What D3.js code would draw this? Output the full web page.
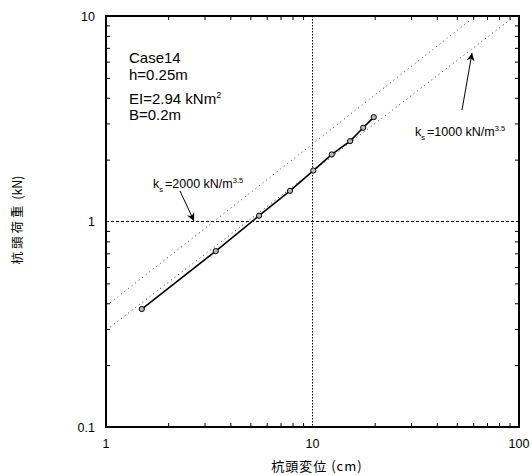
<!DOCTYPE html>
<html>
<head>
<meta charset="utf-8">
<script src="https://cdn.jsdelivr.net/npm/d3@7"></script>
<style>
  body { margin: 0; background: white; }
  text { font-family: "Liberation Sans", Arial, sans-serif; }
  .narrow { font-family: "Liberation Sans Narrow", "Arial Narrow", "Liberation Sans", sans-serif; }
  .jp { font-family: "Noto Sans CJK JP", sans-serif; }
</style>
</head>
<body>
<div id="container"></div>
<script>
// tick labels
let xTickLabels = ["1", "10", "100"];
let yTickLabels = ["0.1", "1", "10"];

// measured pile head displacement (cm) / load (kN)
let dispCm = [1.49, 3.40, 5.51, 7.78, 10.09, 12.4, 15.2, 17.6, 19.8];
let loadKN = [0.375, 0.718, 1.067, 1.41, 1.77, 2.12, 2.46, 2.86, 3.22];

// model lines
let ks2000X = [1.05, 59];
let ks2000Y = [0.403, 9.67];
let ks1000X = [1.05, 93.2];
let ks1000Y = [0.307, 9.82];

let infoLines = ["Case14", "h=0.25m"];

let w = 532;
let h = 475;
let pL = 106, pR = 519, pT = 16, pB = 427;

let viz = d3.select("#container").append("svg")
    .attr("width", w)
    .attr("height", h)
    .style("background-color", "white")
;

let x = d3.scaleLog().domain([+xTickLabels[0], +xTickLabels[2]]).range([pL, pR]);
let y = d3.scaleLog().domain([+yTickLabels[0], +yTickLabels[2]]).range([pB, pT]);

let minorX = d3.range(2, 10).flatMap(d => [d, d * 10]);
let minorY = d3.range(2, 10).flatMap(d => [d / 10, d]);

// inward ticks on all four sides
viz.append("g").attr("transform", `translate(0,${pB})`)
  .call(d3.axisBottom(x).tickValues(minorX).tickSize(-4).tickFormat(""));
viz.append("g").attr("transform", `translate(0,${pT})`)
  .call(d3.axisTop(x).tickValues(minorX).tickSize(-4).tickFormat(""));
viz.append("g").attr("transform", `translate(${pL},0)`)
  .call(d3.axisLeft(y).tickValues(minorY).tickSize(-4).tickFormat(""));
viz.append("g").attr("transform", `translate(${pR},0)`)
  .call(d3.axisRight(y).tickValues(minorY).tickSize(-4).tickFormat(""));
viz.selectAll(".domain").remove();
viz.selectAll(".tick line").attr("stroke", "black").attr("stroke-width", 1);

// reference lines at 1 and 10
viz.append("line")
  .attr("x1", pL).attr("x2", pR)
  .attr("y1", y(1)).attr("y2", y(1))
  .attr("stroke", "black").attr("stroke-width", 1).attr("stroke-dasharray", "3,2");
viz.append("line")
  .attr("x1", x(10)).attr("x2", x(10))
  .attr("y1", pT).attr("y2", pB)
  .attr("stroke", "black").attr("stroke-width", 1).attr("stroke-dasharray", "1.5,1.5");

// tick labels
viz.selectAll(".xlab").data(xTickLabels).enter()
  .append("text")
    .attr("class", "narrow")
    .attr("x", d => x(+d))
    .attr("y", pB + 21)
    .attr("text-anchor", "middle")
    .attr("font-size", 12.5)
    .text(d => d);
viz.selectAll(".ylab").data(yTickLabels).enter()
  .append("text")
    .attr("class", "narrow")
    .attr("x", pL - 11)
    .attr("y", d => y(+d) + 4.5)
    .attr("text-anchor", "end")
    .attr("font-size", 12.5)
    .text(d => d);

// model lines
let line = d3.line().x(d => x(d[0])).y(d => y(d[1]));
[[ks2000X, ks2000Y], [ks1000X, ks1000Y]].forEach(function(s){
  viz.append("path")
    .attr("d", line(d3.zip(s[0], s[1])))
    .attr("fill", "none")
    .attr("stroke", "#333")
    .attr("stroke-width", 1)
    .attr("stroke-dasharray", "1,3.5");
});

// measured curve
let pts = d3.zip(dispCm, loadKN);
viz.append("path")
  .attr("d", line(pts))
  .attr("fill", "none")
  .attr("stroke", "black")
  .attr("stroke-width", 1.6);
viz.selectAll(".pt").data(pts).enter()
  .append("circle")
    .attr("cx", d => x(d[0]))
    .attr("cy", d => y(d[1]))
    .attr("r", 2.6)
    .attr("fill", "#bbb")
    .attr("stroke", "black")
    .attr("stroke-width", 1);

// frame
viz.append("rect")
  .attr("x", pL).attr("y", pT)
  .attr("width", pR - pL).attr("height", pB - pT)
  .attr("fill", "none").attr("stroke", "black").attr("stroke-width", 2);

// info text
viz.selectAll(".info").data(infoLines).enter()
  .append("text")
    .attr("x", 129)
    .attr("y", (d, i) => 63 + i * 17)
    .attr("font-size", 15)
    .text(d => d);
let ei = viz.append("text").attr("x", 129).attr("y", 104).attr("font-size", 15);
ei.append("tspan").text("EI=2.94 kNm");
ei.append("tspan").attr("dy", -6).attr("font-size", 9).text("2");
viz.append("text").attr("x", 129).attr("y", 120).attr("font-size", 15).text("B=0.2m");

// ks labels
function ksLabel(px, py, val){
  let t = viz.append("text").attr("x", px).attr("y", py).attr("font-size", 12.5);
  t.append("tspan").text("k");
  t.append("tspan").attr("dy", 4).attr("font-size", 7.5).text("s");
  t.append("tspan").attr("dy", -4).attr("dx", 2).text("=" + val + " kN/m");
  t.append("tspan").attr("dy", -5).attr("font-size", 7.5).text("3.5");
}
ksLabel(153, 188, 2000);
ksLabel(415, 136, 1000);

// arrows
viz.append("defs").append("marker")
  .attr("id", "head")
  .attr("viewBox", "0 0 10 10")
  .attr("refX", 10).attr("refY", 5)
  .attr("markerWidth", 10).attr("markerHeight", 8)
  .attr("markerUnits", "userSpaceOnUse")
  .attr("orient", "auto")
  .append("path").attr("d", "M0,0L10,5L0,10L3,5Z").attr("fill", "black");
[[180, 191, 194, 221], [462, 110, 472, 53]].forEach(function(a){
  viz.append("line")
    .attr("x1", a[0]).attr("y1", a[1]).attr("x2", a[2]).attr("y2", a[3])
    .attr("stroke", "black").attr("stroke-width", 1)
    .attr("marker-end", "url(#head)");
});

// axis titles
viz.append("text")
  .attr("class", "jp")
  .attr("x", 317)
  .attr("y", 471)
  .attr("text-anchor", "middle")
  .attr("font-size", 13)
  .attr("letter-spacing", 1)
  .text("杭頭変位 (cm)");
let yt = viz.append("text")
  .attr("class", "jp")
  .attr("transform", `translate(22,220) rotate(-90)`)
  .attr("text-anchor", "middle")
  .attr("font-size", 12.5);
yt.append("tspan").attr("letter-spacing", 3).text("杭頭荷重");
yt.append("tspan").text(" (kN)");
</script>
</body>
</html>
